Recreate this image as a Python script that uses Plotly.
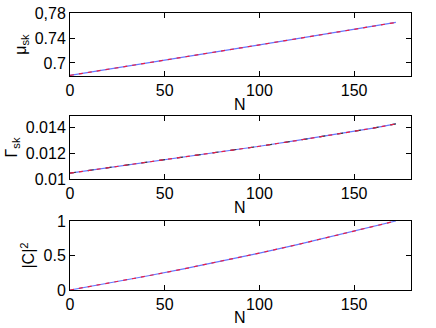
import plotly.graph_objects as go
from plotly.subplots import make_subplots

N = [0, 20, 40, 60, 80, 100, 120, 140, 160, 172]
mu_sk = [0.680, 0.6896, 0.6993, 0.7090, 0.7190, 0.7290, 0.7390, 0.7492, 0.7594, 0.7650]
gamma_sk = [0.01046, 0.01088, 0.01127, 0.01168, 0.01211, 0.01256, 0.01301, 0.01348, 0.01397, 0.01430]
c2 = [0.0, 0.097, 0.199, 0.306, 0.418, 0.535, 0.657, 0.785, 0.917, 1.0]

x_ticks = [0, 50, 100, 150]
mu_ticks = [0.70, 0.74, 0.78]
mu_ticktext = ["0.7", "0.74", "0,78"]
gamma_ticks = [0.010, 0.012, 0.014]
gamma_ticktext = ["0.01", "0.012", "0.014"]
c2_ticks = [0, 0.5, 1]
c2_ticktext = ["0", "0.5", "1"]

fig = make_subplots(rows=3, cols=1)
series = [mu_sk, gamma_sk, c2]
for i, ys in enumerate(series, start=1):
    fig.add_trace(go.Scatter(x=N, y=ys, mode="lines", hoverinfo="skip",
                             line=dict(color="rgb(100,120,255)", width=1.2)), row=i, col=1)
    if i == 2:
        fig.add_trace(go.Scatter(x=N, y=ys, mode="lines", hoverinfo="skip",
                                 line=dict(color="rgb(60,60,60)", width=1.2, dash="6px,12px")), row=i, col=1)
    fig.add_trace(go.Scatter(x=N, y=ys, mode="lines", hoverinfo="skip",
                             line=dict(color="rgb(235,30,70)", width=1.2, dash="4px,5px")), row=i, col=1)

font = dict(family="Liberation Sans, Arial, sans-serif", size=16, color="black")
H = 328.0
W = 436.0
domains = [(13, 76), (116, 179), (221, 290)]
n_label_y = [104, 207, 317]
yinfo = [
    ([0.679, 0.7802], mu_ticks, mu_ticktext, "μ<sub>sk</sub>"),
    ([0.01, 0.01492], gamma_ticks, gamma_ticktext, "Γ<sub>sk</sub>"),
    ([0, 1], c2_ticks, c2_ticktext, "|C|<sup>2</sup>"),
]
axis_common = dict(showline=True, linecolor="black", linewidth=1, mirror="ticks",
                   ticks="inside", ticklen=5, tickcolor="black", showgrid=False,
                   zeroline=False, tickfont=font, automargin=False,
                   ticklabeloverflow="allow")
for i, ((top, bot), (rng, tv, tt, title)) in enumerate(zip(domains, yinfo), start=1):
    xa = "xaxis" if i == 1 else f"xaxis{i}"
    ya = "yaxis" if i == 1 else f"yaxis{i}"
    fig.layout[xa].update(range=[0, 180], tickvals=x_ticks,
                          domain=[70 / W, 411 / W], **axis_common)
    fig.layout[ya].update(range=rng, tickvals=tv, ticktext=tt,
                          domain=[1 - bot / H, 1 - top / H],
                          title=dict(text=title, font=font, standoff=4), **axis_common)
    fig.add_annotation(text="N", xref="paper", yref="paper",
                       x=240 / W, y=1 - n_label_y[i - 1] / H,
                       xanchor="center", yanchor="middle", showarrow=False, font=font)

fig.update_layout(width=436, height=328, showlegend=False, hovermode=False,
                  margin=dict(l=0, r=0, t=0, b=0, pad=0),
                  plot_bgcolor="white", paper_bgcolor="white", font=font)
fig.write_html("out.html", config={"displayModeBar": False},
               post_script="document.body.style.margin='0px';document.body.style.overflow='hidden';")
